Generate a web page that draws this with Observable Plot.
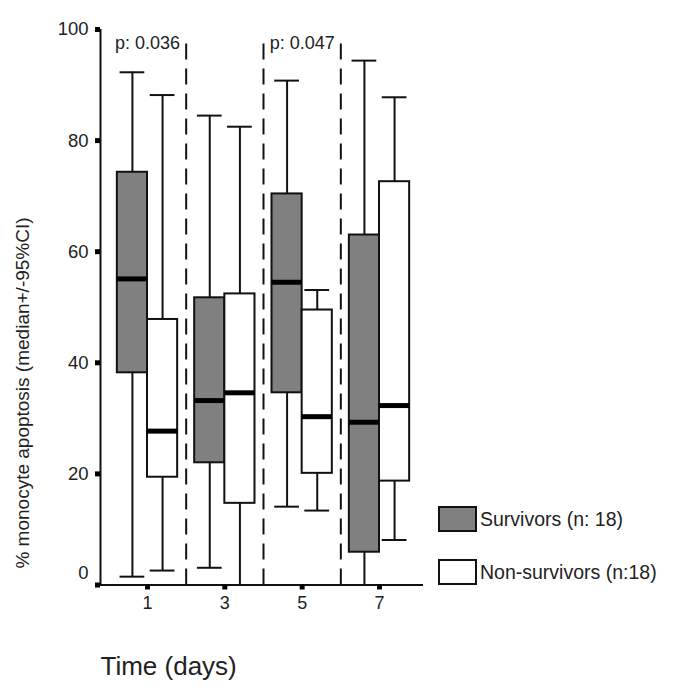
<!DOCTYPE html>
<html><head><meta charset="utf-8">
<script src="https://cdn.jsdelivr.net/npm/d3@7"></script>
<script src="https://cdn.jsdelivr.net/npm/@observablehq/plot@0.6"></script>
<style>
body{margin:0;background:#fff;font-family:"Liberation Sans",Arial,sans-serif}
#wrap{position:relative;width:685px;height:697px}
.leg{position:absolute;left:438px;display:flex;align-items:center;font-size:19.5px;color:#222;white-space:nowrap}
.sw{width:35px;height:22px;border:2px solid #111;margin-right:3px}
#ytitle{position:absolute;left:23px;top:392.5px;transform:translate(-50%,-50%) rotate(-90deg);white-space:nowrap;font-size:19px;color:#222}
</style></head><body><div id="wrap"></div><script>
const days=[1,3,5,7];
const survLow=[1.5,3.1,14.1,0];
const survQ1=[38.2,22.0,34.6,5.9];
const survMed=[55.1,33.2,54.5,29.3];
const survQ3=[74.3,51.7,70.4,63.0];
const survHigh=[92.3,84.5,90.8,94.4];
const nonLow=[2.6,0,13.4,8.1];
const nonQ1=[19.4,14.7,20.1,18.7];
const nonMed=[27.7,34.6,30.3,32.3];
const nonQ3=[47.8,52.4,49.5,72.6];
const nonHigh=[88.2,82.5,53.1,87.8];
const groups=["Survivors (n: 18)","Non-survivors (n:18)"];
const groupFill=["#808080","#ffffff"];
const pDays=[1,5];
const pLabels=["p: 0.036","p: 0.047"];
const pY=97.5;
const separators=[2,4,6];
const sepTop=98.2;
const yTicks=[0,20,40,60,80,100];
const yTitle="% monocyte apoptosis (median+/-95%CI)";
const xTitle="Time (days)";

const BW=0.78, CAP=0.32;
const xDomain=[-0.2155,8.138];
const rows=[];
days.forEach((d,i)=>{
  rows.push({day:d,g:0,x1:d-BW,x2:d,lo:survLow[i],q1:survQ1[i],med:survMed[i],q3:survQ3[i],hi:survHigh[i]});
  rows.push({day:d,g:1,x1:d,x2:d+BW,lo:nonLow[i],q1:nonQ1[i],med:nonMed[i],q3:nonQ3[i],hi:nonHigh[i]});
});
rows.forEach(r=>r.c=(r.x1+r.x2)/2);

const ink="#111";
const chart=Plot.plot({
  width:685,height:697,
  marginLeft:100,marginRight:262,marginTop:29,marginBottom:112.5,
  style:{fontFamily:'"Liberation Sans",Arial,sans-serif',background:"#fff",color:"#222"},
  x:{type:"linear",domain:xDomain,axis:null},
  y:{domain:[0,100],axis:null},
  marks:[
    Plot.ruleX(separators,{x:d=>d,y1:0,y2:sepTop,stroke:ink,strokeWidth:2,strokeDasharray:"16,9"}),
    Plot.ruleX(rows,{x:"c",y1:"q3",y2:"hi",stroke:ink,strokeWidth:2}),
    Plot.ruleX(rows,{x:"c",y1:"lo",y2:"q1",stroke:ink,strokeWidth:2}),
    Plot.ruleY(rows,{y:"hi",x1:r=>r.c-CAP,x2:r=>r.c+CAP,stroke:ink,strokeWidth:2}),
    Plot.ruleY(rows.filter(r=>r.lo>0),{y:"lo",x1:r=>r.c-CAP,x2:r=>r.c+CAP,stroke:ink,strokeWidth:2}),
    Plot.rect(rows,{x1:"x1",x2:"x2",y1:"q1",y2:"q3",fill:r=>groupFill[r.g],stroke:ink,strokeWidth:2}),
    Plot.ruleY(rows,{y:"med",x1:"x1",x2:"x2",stroke:"#000",strokeWidth:5}),
    Plot.text(pDays,{x:d=>d,y:pY,text:(d,i)=>pLabels[i],fontSize:18,fill:"#222"}),
    Plot.ruleY([0],{stroke:ink,strokeWidth:2}),
    Plot.ruleX([xDomain[0]],{stroke:ink,strokeWidth:2}),
    Plot.axisY({ticks:yTicks,tickSize:5,strokeWidth:5,stroke:"#000",tickPadding:7,fontSize:18.5,label:null,
      tickFormat:d=>d===0?"":String(d)}),
    Plot.text([0],{y:d=>d,frameAnchor:"left",dx:-12,dy:-12,textAnchor:"end",text:d=>String(d),fontSize:18.5,fill:"#222"}),
    Plot.axisX({ticks:days,tickSize:5,strokeWidth:5,stroke:"#000",tickPadding:6,fontSize:18,label:null,tickFormat:d=>String(d)}),
    Plot.text([xTitle],{frameAnchor:"bottom-left",dy:90,textAnchor:"start",text:d=>d,fontSize:26,fill:"#222"})
  ]
});
const wrap=document.getElementById("wrap");
wrap.appendChild(chart);
const yt=document.createElement("div");
yt.id="ytitle";
yt.textContent=yTitle;
wrap.appendChild(yt);
const legTops=[506,559];
groups.forEach((g,i)=>{
  const el=document.createElement("div");
  el.className="leg";
  el.style.top=legTops[i]+"px";
  el.innerHTML=`<div class="sw" style="background:${groupFill[i]}"></div><span>${g}</span>`;
  wrap.appendChild(el);
});
</script></body></html>
